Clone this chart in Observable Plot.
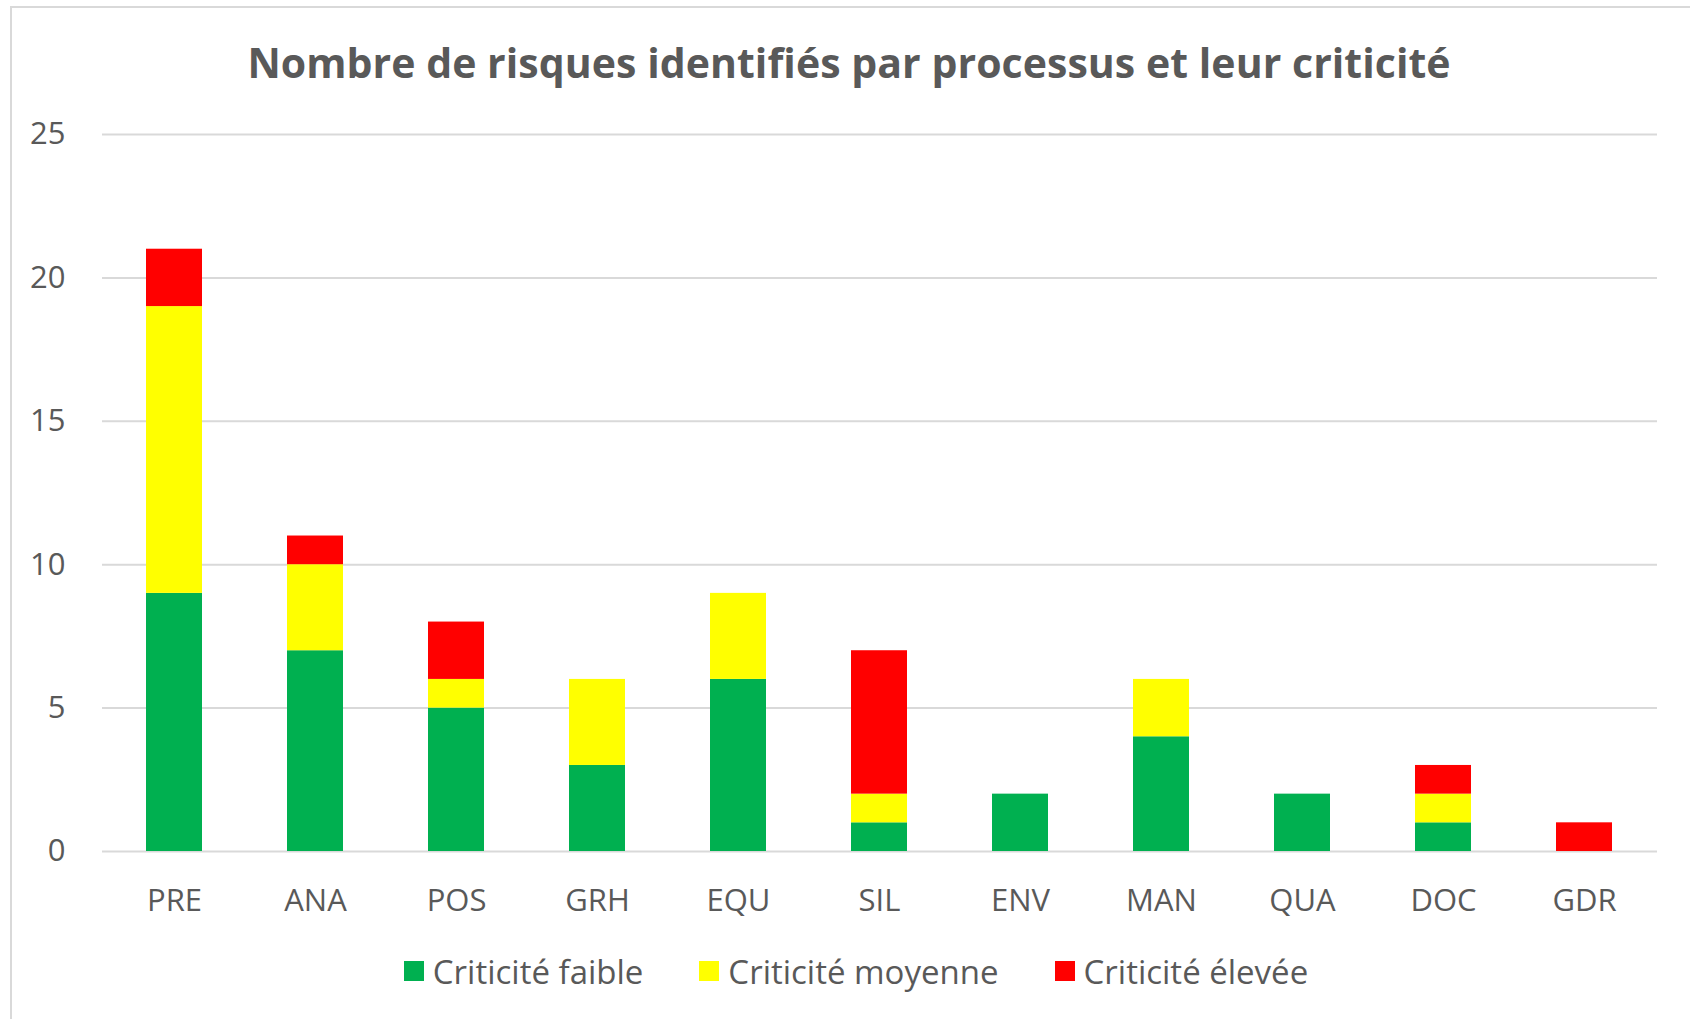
<!DOCTYPE html>
<html>
<head>
<meta charset="utf-8">
<script src="https://cdn.jsdelivr.net/npm/d3@7"></script>
<script src="https://cdn.jsdelivr.net/npm/@observablehq/plot@0.6"></script>
<style>
  html, body { margin: 0; padding: 0; background: #fff; }
  body { width: 1690px; height: 1019px; overflow: hidden; position: relative; font-family: "Open Sans", sans-serif; color: #595959; }
  #frame { position: absolute; left: 10px; top: 6px; width: 1700px; height: 1100px; border: 2px solid #D9D9D9; box-sizing: border-box; pointer-events: none; }
  #title { height: 100px; display: flex; align-items: center; justify-content: center; font-weight: 700; font-size: 41px; color: #595959; padding-left: 8px; box-sizing: border-box; padding-top: 24px; letter-spacing: 0.05px; }
  #legend { display: flex; justify-content: center; align-items: center; height: 100px; font-size: 33px; color: #595959; padding-left: 22px; box-sizing: border-box; }
  .item { display: flex; align-items: center; margin: 0 28px; }
  .sw { width: 20px; height: 20px; margin-right: 9px; }
</style>
</head>
<body>
<div id="frame"></div>
<div id="title">Nombre de risques identifiés par processus et leur criticité</div>
<div id="chart"></div>
<div id="legend"></div>
<script>
const processes = ["PRE","ANA","POS","GRH","EQU","SIL","ENV","MAN","QUA","DOC","GDR"];
const faible  = [9, 7, 5, 3, 6, 1, 2, 4, 2, 1, 0];
const moyenne = [10, 3, 1, 3, 3, 1, 0, 2, 0, 1, 0];
const elevee  = [2, 1, 2, 0, 0, 5, 0, 0, 0, 1, 1];
const seriesNames = ["Criticité faible", "Criticité moyenne", "Criticité élevée"];
const seriesColors = ["#00B050", "#FFFF00", "#FF0000"];
const yTicks = [0, 5, 10, 15, 20, 25];

const seriesValues = [faible, moyenne, elevee];
const rows = [];
seriesNames.forEach((s, si) => {
  processes.forEach((p, i) => rows.push({process: p, serie: s, value: seriesValues[si][i]}));
});

const chart = Plot.plot({
  width: 1690,
  height: 821,
  marginTop: 34,
  marginBottom: 70,
  marginLeft: 102,
  marginRight: 33,
  style: {fontFamily: "'Open Sans', sans-serif", fontSize: "31px", color: "#595959", background: "transparent"},
  x: {domain: processes, paddingInner: 0.6, paddingOuter: 0.3, label: null, tickSize: 0},
  y: {domain: [0, 25], ticks: yTicks, label: null, tickSize: 0},
  color: {domain: seriesNames, range: seriesColors},
  marks: [
    Plot.ruleY(yTicks, {stroke: "#D9D9D9", strokeWidth: 2}),
    Plot.barY(rows, {x: "process", y: "value", fill: "serie", order: seriesNames}),
    Plot.axisX({tickSize: 0, tickPadding: 37, fontSize: 31, fill: "#595959", label: null}),
    Plot.axisY({ticks: yTicks, tickSize: 0, tickPadding: 37, fontSize: 31, fill: "#595959", label: null})
  ]
});
document.getElementById("chart").appendChild(chart);

const legend = document.getElementById("legend");
seriesNames.forEach((s, i) => {
  const it = document.createElement("div");
  it.className = "item";
  const sw = document.createElement("div");
  sw.className = "sw";
  sw.style.background = seriesColors[i];
  const tx = document.createElement("span");
  tx.textContent = s;
  it.appendChild(sw); it.appendChild(tx);
  legend.appendChild(it);
});
</script>
</body>
</html>
